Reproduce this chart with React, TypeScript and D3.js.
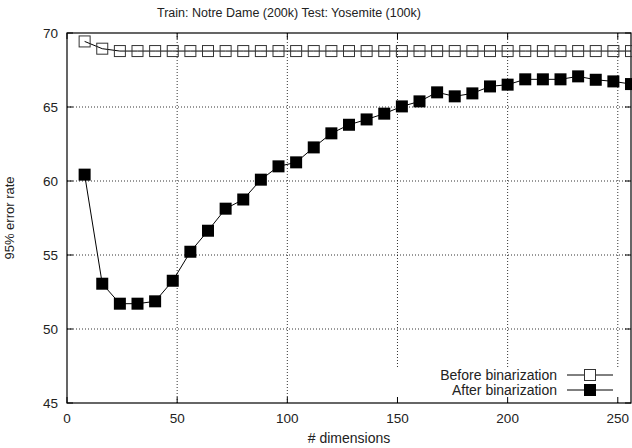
import React from "react";
import * as d3 from "d3";

const dims = [8, 16, 24, 32, 40, 48, 56, 64, 72, 80, 88, 96, 104, 112, 120, 128, 136, 144, 152, 160, 168, 176, 184, 192, 200, 208, 216, 224, 232, 240, 248, 256];
const beforeBin = [69.43, 68.94, 68.78, 68.78, 68.78, 68.78, 68.78, 68.78, 68.78, 68.78, 68.78, 68.78, 68.78, 68.78, 68.78, 68.78, 68.78, 68.78, 68.78, 68.78, 68.78, 68.78, 68.78, 68.78, 68.78, 68.78, 68.78, 68.78, 68.78, 68.78, 68.78, 68.78];
const afterBin = [60.43, 53.06, 51.71, 51.71, 51.87, 53.26, 55.22, 56.64, 58.13, 58.75, 60.09, 60.99, 61.26, 62.27, 63.22, 63.8, 64.16, 64.55, 65.04, 65.38, 65.99, 65.72, 65.92, 66.39, 66.51, 66.87, 66.87, 66.87, 67.07, 66.84, 66.73, 66.55];
const xTicks = [0, 50, 100, 150, 200, 250];
const yTicks = [45, 50, 55, 60, 65, 70];
const seriesNames = ["Before binarization", "After binarization"];
const title = "Train: Notre Dame (200k) Test: Yosemite (100k)";
const xLabel = "# dimensions";
const yLabel = "95% error rate";

export default function App() {
  const W = 632, H = 448;
  const L = 67, R = 631, T = 33, B = 403;
  const x = d3.scaleLinear().domain([0, 256]).range([L, R]);
  const y = d3.scaleLinear().domain([45, 70]).range([B, T]);
  const font = "'Liberation Sans', Arial, Helvetica, sans-serif";
  const line = d3.line<number>().x((_, i) => x(dims[i])).y((v) => y(v));
  const ms = 11;
  const keyY = [375, 390];
  const fs = 14;
  return (
    <svg width={W} height={H} style={{ position: "absolute", left: 0, top: 0, background: "#fff" }} fontFamily={font}>
      <rect x={0} y={0} width={W} height={H} fill="#fff" />
      <text x={289} y={17} fontSize={12.5} textAnchor="middle" fill="#222">{title}</text>
      {/* grid */}
      {xTicks.filter((t) => t > 0).map((t) => (
        <line key={"gx" + t} x1={x(t)} x2={x(t)} y1={T} y2={B} stroke="#000" strokeWidth={1} strokeDasharray="1,2" opacity={0.8} />
      ))}
      {yTicks.filter((t) => t > 45 && t < 70).map((t) => (
        <line key={"gy" + t} x1={L} x2={R} y1={y(t)} y2={y(t)} stroke="#000" strokeWidth={1} strokeDasharray="1,2" opacity={0.8} />
      ))}
      {/* key background */}
      <rect x={392} y={368} width={238} height={34} fill="#fff" />
      {/* ticks */}
      {xTicks.map((t) => (
        <g key={"tx" + t}>
          <line x1={x(t)} x2={x(t)} y1={B} y2={B - 6} stroke="#000" />
          <line x1={x(t)} x2={x(t)} y1={T} y2={T + 6} stroke="#000" />
          <text x={x(t)} y={423} fontSize={13.5} textAnchor="middle" fill="#222">{t}</text>
        </g>
      ))}
      {yTicks.map((t) => (
        <g key={"ty" + t}>
          <line x1={L} x2={L + 6} y1={y(t)} y2={y(t)} stroke="#000" />
          <line x1={R} x2={R - 6} y1={y(t)} y2={y(t)} stroke="#000" />
          <text x={58} y={y(t) + 4.8} fontSize={13.5} textAnchor="end" fill="#222">{t}</text>
        </g>
      ))}
      <rect x={L} y={T} width={R - L} height={B - T} fill="none" stroke="#000" strokeWidth={1.2} />
      {/* series */}
      <path d={line(beforeBin) || ""} fill="none" stroke="#000" strokeWidth={1} />
      {beforeBin.map((v, i) => (
        <rect key={"b" + i} x={x(dims[i]) - ms / 2} y={y(v) - ms / 2} width={ms} height={ms} fill="none" stroke="#333" strokeWidth={1} />
      ))}
      <path d={line(afterBin) || ""} fill="none" stroke="#000" strokeWidth={1} />
      {afterBin.map((v, i) => (
        <rect key={"a" + i} x={x(dims[i]) - 6} y={y(v) - 6} width={12} height={12} fill="#000" />
      ))}
      {/* legend */}
      <text x={557} y={keyY[0] + 5} fontSize={fs} textAnchor="end" fill="#222">{seriesNames[0]}</text>
      <line x1={567} x2={613} y1={keyY[0]} y2={keyY[0]} stroke="#000" />
      <rect x={590 - ms / 2} y={keyY[0] - ms / 2} width={ms} height={ms} fill="#fff" stroke="#333" />
      <text x={557} y={keyY[1] + 5} fontSize={fs} textAnchor="end" fill="#222">{seriesNames[1]}</text>
      <line x1={567} x2={613} y1={keyY[1]} y2={keyY[1]} stroke="#000" />
      <rect x={584} y={keyY[1] - 6} width={12} height={12} fill="#000" />
      {/* axis labels */}
      <text x={(L + R) / 2} y={443} fontSize={fs} textAnchor="middle" fill="#222">{xLabel}</text>
      <text transform={`translate(14, ${(T + B) / 2}) rotate(-90)`} fontSize={13} textAnchor="middle" fill="#222">{yLabel}</text>
    </svg>
  );
}
